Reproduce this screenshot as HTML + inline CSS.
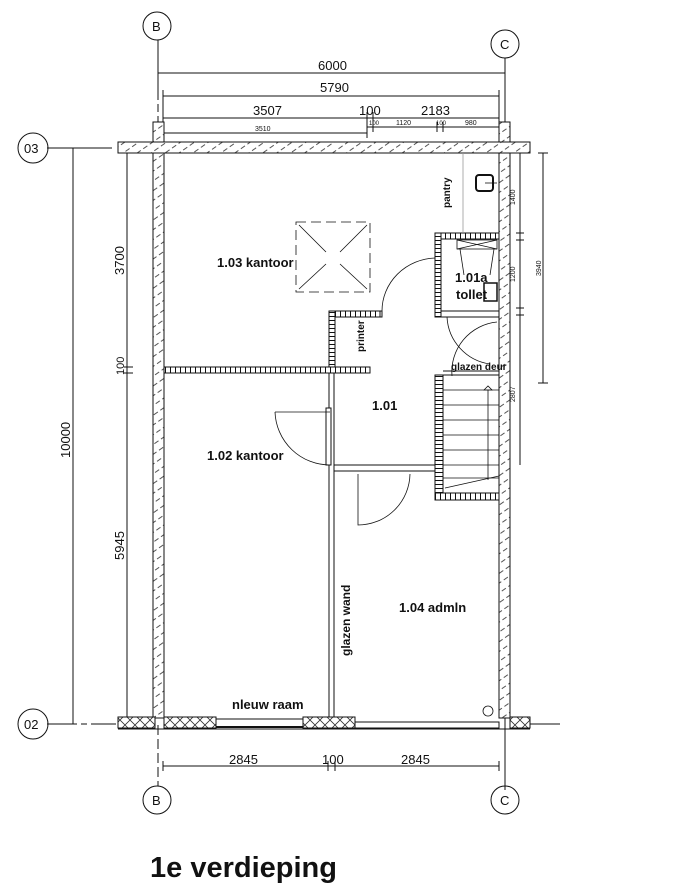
<!DOCTYPE html>
<html><head><meta charset="utf-8"><style>
html,body{margin:0;padding:0;background:#fff;}
svg{display:block;}
text{font-family:"Liberation Sans",sans-serif;fill:#111;}
.b{font-weight:bold;}
</style></head><body>
<svg width="676" height="891" viewBox="0 0 676 891" xmlns="http://www.w3.org/2000/svg">
<defs>
<pattern id="h" width="8" height="8" patternUnits="userSpaceOnUse" patternTransform="rotate(-35)">
<rect width="8" height="8" fill="#fff"/><line x1="0" y1="4" x2="5" y2="4" stroke="#555" stroke-width="1"/></pattern>
<pattern id="br" width="5" height="8" patternUnits="userSpaceOnUse"><rect width="5" height="8" fill="#fff"/><line x1="0.5" y1="0" x2="0.5" y2="8" stroke="#111" stroke-width="1"/></pattern>
<pattern id="brv" width="8" height="4" patternUnits="userSpaceOnUse"><rect width="8" height="4" fill="#fff"/><line x1="0" y1="0.5" x2="8" y2="0.5" stroke="#111" stroke-width="1"/></pattern>
<pattern id="x" width="10" height="10" patternUnits="userSpaceOnUse"><rect width="10" height="10" fill="#fff"/><path d="M0 0L10 10M10 0L0 10" stroke="#333" stroke-width="0.8"/></pattern>
</defs>
<g stroke="#111" fill="none" stroke-width="1">
<line x1="158" y1="40" x2="158" y2="140" stroke-dasharray="60 4 8 4"/>
<line x1="505" y1="58" x2="505" y2="790"/>
<line x1="158" y1="725" x2="158" y2="786" stroke-dasharray="10 4"/>
<line x1="47" y1="148" x2="112" y2="148"/>
<line x1="47" y1="724" x2="116" y2="724" stroke-dasharray="30 4 6 4"/>
<line x1="530" y1="724" x2="560" y2="724"/>
<circle cx="157" cy="26" r="14"/><circle cx="505" cy="44" r="14"/>
<circle cx="33" cy="148" r="15"/><circle cx="33" cy="724" r="15"/>
<circle cx="157" cy="800" r="14"/><circle cx="505" cy="800" r="14"/>
<line x1="158" y1="73" x2="505" y2="73"/>
<line x1="163" y1="96" x2="499" y2="96"/>
<line x1="163" y1="118" x2="499" y2="118"/>
<line x1="367" y1="127" x2="499" y2="127"/>
<line x1="163" y1="133" x2="367" y2="133"/>
<line x1="163" y1="90" x2="163" y2="140"/><line x1="499" y1="90" x2="499" y2="130"/>
<line x1="367" y1="112" x2="367" y2="138"/><line x1="373" y1="112" x2="373" y2="132"/>
<line x1="437" y1="122" x2="437" y2="132"/><line x1="443" y1="122" x2="443" y2="132"/>
<line x1="73" y1="148" x2="73" y2="724"/>
<line x1="127" y1="153" x2="127" y2="718"/>
<line x1="124" y1="367" x2="133" y2="367"/><line x1="124" y1="373" x2="133" y2="373"/>
<line x1="520" y1="153" x2="520" y2="465"/>
<line x1="543" y1="153" x2="543" y2="383"/>
<line x1="516" y1="233" x2="524" y2="233"/><line x1="516" y1="240" x2="524" y2="240"/>
<line x1="516" y1="308" x2="524" y2="308"/><line x1="516" y1="315" x2="524" y2="315"/>
<line x1="538" y1="153" x2="548" y2="153"/><line x1="538" y1="383" x2="548" y2="383"/>
<line x1="163" y1="766" x2="499" y2="766"/>
<line x1="163" y1="761" x2="163" y2="771"/><line x1="328" y1="761" x2="328" y2="771"/>
<line x1="335" y1="761" x2="335" y2="771"/><line x1="499" y1="761" x2="499" y2="771"/>
</g>
<g stroke="#111" stroke-width="1">
<rect x="153" y="122" width="11" height="20" fill="url(#h)"/>
<rect x="499" y="122" width="11" height="20" fill="url(#h)"/>
<rect x="118" y="142" width="412" height="11" fill="url(#h)"/>
<rect x="153" y="153" width="11" height="565" fill="url(#h)"/>
<rect x="499" y="153" width="11" height="565" fill="url(#h)"/>
<rect x="118" y="717" width="37" height="11" fill="url(#x)"/>
<rect x="164" y="717" width="52" height="11" fill="url(#x)"/>
<rect x="216" y="719" width="87" height="8" fill="#fff"/>
<line x1="216" y1="727" x2="303" y2="727" stroke-width="2"/>
<rect x="303" y="717" width="52" height="11" fill="url(#x)"/>
<rect x="355" y="722" width="144" height="6" fill="#fff"/>
<rect x="510" y="717" width="20" height="11" fill="url(#x)"/>
<line x1="118" y1="729" x2="530" y2="729"/>
<rect x="164" y="367" width="206" height="6" fill="url(#br)"/>
<rect x="329" y="311" width="6" height="56" fill="url(#brv)"/>
<rect x="335" y="311" width="45" height="6" fill="url(#br)"/>
<rect x="380" y="311" width="2" height="6" fill="#fff"/>
<rect x="437" y="311" width="62" height="6" fill="#fff"/>
<rect x="329" y="373" width="5" height="344" fill="#fff"/>
<rect x="326" y="408" width="5" height="57" fill="#fff"/>
<rect x="334" y="465" width="103" height="6" fill="#fff"/>
<rect x="435" y="233" width="64" height="6" fill="url(#br)"/>
<rect x="435" y="233" width="6" height="84" fill="url(#brv)"/>
<rect x="435" y="375" width="8" height="125" fill="url(#brv)"/>
<rect x="435" y="493" width="64" height="7" fill="url(#br)"/>
<rect x="443" y="375" width="56" height="118" fill="#fff"/>
<line x1="443" y1="371" x2="499" y2="371"/>
</g>
<g stroke="#111" fill="none" stroke-width="0.8">
<line x1="443" y1="390" x2="499" y2="390"/><line x1="443" y1="405" x2="499" y2="405"/>
<line x1="443" y1="420" x2="499" y2="420"/><line x1="443" y1="435" x2="499" y2="435"/>
<line x1="443" y1="450" x2="499" y2="450"/><line x1="443" y1="465" x2="499" y2="465"/>
<line x1="443" y1="478" x2="499" y2="478"/>
<line x1="445" y1="488" x2="499" y2="476"/>
<line x1="488" y1="390" x2="488" y2="480"/><path d="M484 390L488 386L492 390Z"/>
<path d="M382 311A55 53 0 0 1 435 258"/>
<path d="M275 412A55 55 0 0 0 330 465"/><line x1="275" y1="412" x2="330" y2="412"/>
<path d="M358 474V525A52 52 0 0 0 410 474"/>
<path d="M497 322A50 50 0 0 0 452 376"/><path d="M447 317A50 50 0 0 0 490 364"/>
<rect x="296" y="222" width="74" height="70" stroke-dasharray="10 5"/>
<path d="M299 225L326 252M340 264L367 289M367 225L340 252M326 264L299 289"/>
<line x1="463" y1="153" x2="463" y2="233" stroke="#999"/>
<rect x="476" y="175" width="17" height="16" rx="3" stroke-width="2"/>
<line x1="485" y1="183" x2="497" y2="183"/>
<rect x="457" y="240" width="40" height="9"/><path d="M457 240L497 249M497 240L457 249"/>
<path d="M460 249L464 275M494 249L490 275"/>
<rect x="484" y="283" width="13" height="18" stroke-width="1.5"/>
<circle cx="488" cy="711" r="5"/>
</g>
<g font-size="13">
<text x="318" y="70">6000</text>
<text x="320" y="92">5790</text>
<text x="253" y="115">3507</text>
<text x="359" y="115">100</text>
<text x="421" y="115">2183</text>
<text x="255" y="131" font-size="7">3510</text>
<text x="396" y="125" font-size="7">1120</text>
<text x="465" y="125" font-size="7">980</text>
<text x="369" y="125" font-size="6">100</text>
<text x="436" y="125" font-size="6">100</text>
<text x="229" y="764">2845</text>
<text x="322" y="764">100</text>
<text x="401" y="764">2845</text>
<text x="152" y="31">B</text><text x="500" y="49">C</text>
<text x="152" y="805">B</text><text x="500" y="805">C</text>
<text x="24" y="153">03</text><text x="24" y="729">02</text>
<text transform="translate(70,458) rotate(-90)">10000</text>
<text transform="translate(124,275) rotate(-90)">3700</text>
<text transform="translate(124,375) rotate(-90)" font-size="11">100</text>
<text transform="translate(124,560) rotate(-90)">5945</text>
<text transform="translate(515,205) rotate(-90)" font-size="7">1400</text>
<text transform="translate(515,282) rotate(-90)" font-size="7">1200</text>
<text transform="translate(515,402) rotate(-90)" font-size="7">2807</text>
<text transform="translate(541,276) rotate(-90)" font-size="7">3940</text>
</g>
<g class="b" font-size="13">
<text x="217" y="267" class="b">1.03 kantoor</text>
<text x="207" y="460" class="b">1.02 kantoor</text>
<text x="372" y="410" class="b">1.01</text>
<text x="399" y="612" class="b">1.04 admln</text>
<text x="232" y="709" class="b">nleuw raam</text>
<text x="455" y="282" class="b">1.01a</text>
<text x="456" y="299" class="b">tollet</text>
<text x="451" y="370" class="b" font-size="10">glazen deur</text>
<text transform="translate(350,656) rotate(-90)" class="b" font-size="12">glazen wand</text>
<text transform="translate(364,352) rotate(-90)" class="b" font-size="10">printer</text>
<text transform="translate(450,208) rotate(-90)" class="b" font-size="10">pantry</text>
<text x="150" y="877" class="b" font-size="29">1e verdieping</text>
</g>
</svg>
</body></html>
